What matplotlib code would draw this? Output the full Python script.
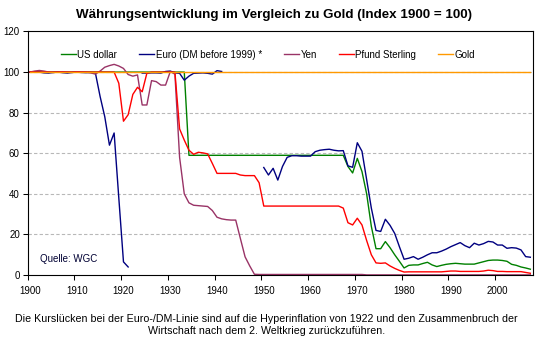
import numpy as np
import matplotlib
matplotlib.use("Agg")
import matplotlib.pyplot as plt
import matplotlib.transforms as mtransforms

plt.rcParams['font.family'] = ['Liberation Sans', 'DejaVu Sans']

nan = np.nan
years = np.arange(1900, 2008)

# Index values (1900 = 100), one value per year 1900..2007
us_dollar = (
    [100] * 34                                   # 1900-1933
    + [59] * 33                                  # 1934-1966
    + [59, 53.5, 50.3, 57.5, 51, 40, 24, 13, 13, 16.5,          # 1967-1976
       13.5, 10, 6.8, 3.5, 4.8, 5, 5, 5.7, 6.3, 5,              # 1977-1986
       4.2, 4.8, 5.3, 5.6, 5.8, 5.6, 5.4, 5.4, 5.4, 6,          # 1987-1996
       6.6, 7.2, 7.4, 7.4, 7.2, 6.8, 5.3, 4.8, 4, 3.5, 2.9]     # 1997-2007
)

euro_dm = (
    [100, 100.2, 100, 99.6, 99.5, 99.8, 100, 99.7, 99.5, 99.8,  # 1900-1909
     100, 99.8, 99.7, 99.8, 99.5, 88, 78, 64, 70, 38,           # 1910-1919
     6.5, 4, nan, nan, 99.5, 99.5, 99.6, 99.6, 99.5, 100.3,     # 1920-1929
     100.5, 99.6, 99.4, 96, 98, 99.4, 99.5, 99.6, 99.4, 99,     # 1930-1939
     100.7, 100.3, nan, nan, nan, nan, nan, nan, nan, nan,      # 1940-1949
     53, 49.3, 52.6, 46.8, 53.5, 58, 58.8, 58.8, 58.6, 58.6,    # 1950-1959
     58.6, 60.8, 61.5, 61.8, 62, 61.5, 61.2, 61.3, 53.8, 53.1,  # 1960-1969
     65.2, 61, 47, 33, 22, 21.5, 27.5, 24.5, 20.5, 14,          # 1970-1979
     7.8, 8.3, 9.1, 7.8, 8.8, 10, 11, 11, 11.8, 12.8,           # 1980-1989
     14, 15, 16, 14.5, 13.5, 15.7, 14.8, 15.5, 16.6, 16.3,      # 1990-1999
     14.8, 14.8, 13.2, 13.5, 13.3, 12.4, 9.1, 8.8]              # 2000-2007
)

yen = (
    [100, 100.5, 100.8, 100.5, 100, 99.8, 100, 100.2, 100, 99.8,      # 1900-1909
     100.2, 100, 100, 99.6, 99, 100.5, 102.4, 103.2, 103.8, 103,      # 1910-1919
     101.8, 98.8, 98, 98.6, 83.8, 83.8, 95.8, 95.3, 93.6, 93.6,       # 1920-1929
     100.2, 99, 58, 40, 35.6, 34.4, 34.2, 34, 33.8, 31.8,             # 1930-1939
     28.5, 27.7, 27.3, 27.1, 27.1, 18, 9, 4.5, 0.4]                   # 1940-1948
    + [0.3] * 23                                                      # 1949-1971
    + [0.1] * 36                                                      # 1972-2007
)

pfund = (
    [100] * 19                                                        # 1900-1918
    + [94.5, 75.8, 79, 89, 92.5, 90.3, 99.4]                          # 1919-1925
    + [100] * 6                                                       # 1926-1931
    + [72, 66.5, 61.5, 59.5, 60.5, 60.2, 59.7, 55,                    # 1932-1939
       50.1, 50.1, 50.1, 50.1, 50.1, 49.3, 49, 49, 49, 45.5]          # 1940-1949
    + [34] * 17                                                       # 1950-1966
    + [33, 25.8, 24.7, 28, 24.7, 17, 10, 6, 5.8, 6,                   # 1967-1976
       4.5, 3.3, 2.3, 1.5, 1.6, 1.6, 1.6, 1.6, 1.6, 1.6,              # 1977-1986
       1.6, 1.6, 1.8, 2, 2, 1.8, 1.8, 1.8, 1.8, 1.8,                  # 1987-1996
       2, 2.4, 2.2, 1.8, 1.8, 1.7, 1.7, 1.7, 1.7, 1.3, 0.9]           # 1997-2007
)

gold = [100] * len(years)

labels = ['US dollar', 'Euro (DM before 1999) *', 'Yen', 'Pfund Sterling', 'Gold']
colors = ['#008000', '#000080', '#993366', '#FF0000', '#FF9900']
series = [us_dollar, euro_dm, yen, pfund, gold]

fig = plt.figure(figsize=(5.5, 3.43), dpi=100)
ax = fig.add_axes([0.0502, 0.198, 0.9183, 0.7102])

# each year is drawn in the middle of its category slot
xpos = years + 0.5
for vals, lab, col in zip(series, labels, colors):
    ax.plot(xpos, vals, color=col, lw=1.0, label=lab, solid_joinstyle='round')

ax.set_xlim(1900, 2008)
ax.set_ylim(0, 120)
ax.set_yticks(range(0, 121, 20))
ax.set_xticks(range(1900, 2001, 10))
ax.tick_params(axis='both', labelsize=7, direction='out', length=3.6, width=0.75, color='black')
ax.tick_params(axis='x', pad=4)
ax.tick_params(axis='y', pad=2)

# shift year labels to the centre of the category
offset = mtransforms.ScaledTranslation(2.3 / 100, 0, fig.dpi_scale_trans)
for lbl in ax.get_xticklabels():
    lbl.set_transform(lbl.get_transform() + offset)

for y in range(20, 101, 20):
    ax.axhline(y, color='#B8B8B8', lw=0.8, ls=(0, (3, 2)), zorder=0)

for sp in ax.spines.values():
    sp.set_linewidth(0.8)
    sp.set_color('black')
    sp.set_zorder(5)

ax.legend(loc='center left', bbox_to_anchor=(0.066, 0.905), ncol=5, frameon=False,
          fontsize=7, handlelength=1.55, handletextpad=0.15, columnspacing=2.25,
          borderpad=0, borderaxespad=0)

ax.text(0.0245, 0.066, 'Quelle: WGC', transform=ax.transAxes, fontsize=7,
        va='center', ha='left', color='#000033')

fig.text(273.5 / 550, 1 - 15 / 343, 'Währungsentwicklung im Vergleich zu Gold (Index 1900 = 100)',
         ha='center', va='center', fontsize=9.6, fontweight='bold')

fig.text(266.5 / 550, 1 - 325 / 343,
         'Die Kurslücken bei der Euro-/DM-Linie sind auf die Hyperinflation von 1922 und den Zusammenbruch der\n'
         'Wirtschaft nach dem 2. Weltkrieg zurückzuführen.',
         ha='center', va='center', fontsize=7.7, linespacing=1.3)

fig.savefig('out.png', dpi=100)
